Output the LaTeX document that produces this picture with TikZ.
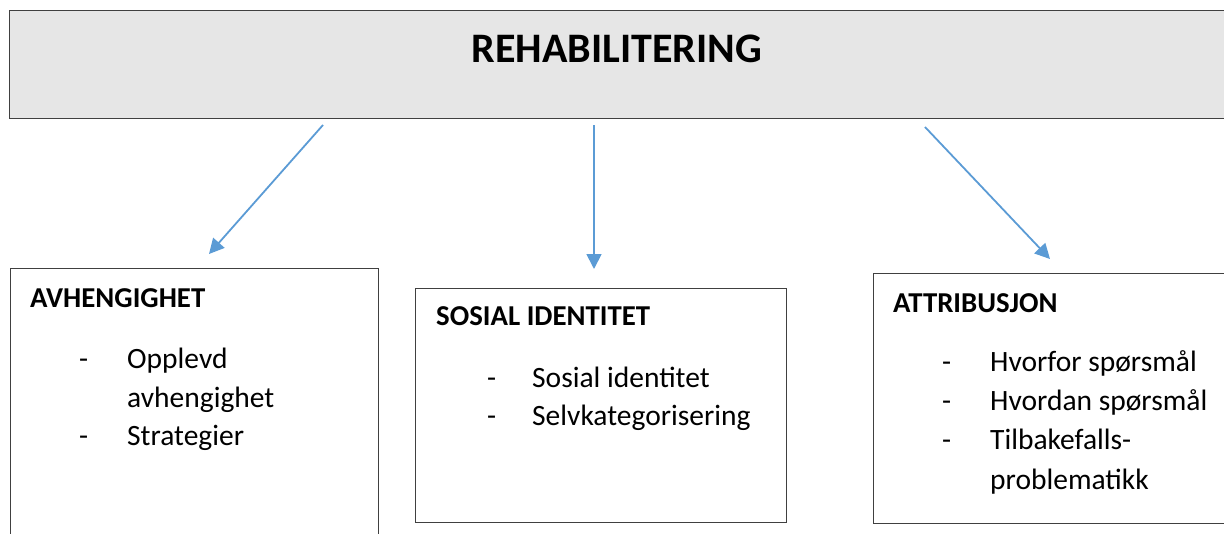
\documentclass[tikz,border=0pt]{standalone}
\usepackage{fontspec}
\setmainfont{Carlito}
\usetikzlibrary{arrows.meta}
\definecolor{pilblaa}{HTML}{5B9BD5}
\definecolor{boksgraa}{HTML}{E6E6E6}
\definecolor{kant}{HTML}{404040}

\begin{document}
\begin{tikzpicture}[x=1pt,y=-1pt,
	boks/.style={draw=kant,line width=1.2pt,anchor=north west,inner sep=0pt},
	overskrift/.style={anchor=base west,inner sep=0pt,font=\fontsize{28.8}{34}\selectfont\bfseries},
	punkt/.style={anchor=base west,inner sep=0pt,font=\fontsize{29.5}{36}\selectfont},
	pil/.style={draw=pilblaa,line width=1.8pt,-{Triangle[length=15pt,width=15pt]}}]
		\useasboundingbox (0,0) rectangle (1224,533);
		\clip (0,0) rectangle (1224,533);
		% boksene
		\node[boks,fill=boksgraa,minimum width=1240pt,minimum height=108pt] (rehab) at (9,10) {};
		\node[boks,minimum width=368pt,minimum height=300pt] (avh) at (10,268) {};
		\node[boks,minimum width=371pt,minimum height=234pt] (sos) at (415,288) {};
		\node[boks,minimum width=400pt,minimum height=250pt] (attr) at (873,273) {};
		\node[anchor=base,inner sep=0pt,font=\fontsize{42}{50}\selectfont\bfseries] (tittel) at (617,62) {REHABILITERING};
		% avhengighet
		\node[overskrift] (avhT) at (30,307) {AVHENGIGHET};
		\node[punkt] (avhS1) at (79,368) {-};
		\node[punkt] (avh1) at (127,368) {Opplevd};
		\node[punkt] (avh1b) at (127,407) {avhengighet};
		\node[punkt] (avhS2) at (79,445) {-};
		\node[punkt] (avh2) at (127,445) {Strategier};
		% sosial identitet
		\node[overskrift] (sosT) at (436,325) {SOSIAL IDENTITET};
		\foreach \y/\navn/\tekst in {387/sos1/Sosial identitet,425/sos2/Selvkategorisering}{
			\node[punkt] (\navn S) at (487,\y) {-};
			\node[punkt] (\navn) at (532,\y) {\tekst};
		}
		% attribusjon
		\node[overskrift] (attrT) at (893,312) {ATTRIBUSJON};
		\foreach \y/\navn/\tekst in {371/attr1/Hvorfor spørsmål,410/attr2/Hvordan spørsmål,449/attr3/Tilbakefalls-}{
			\node[punkt] (\navn S) at (942,\y) {-};
			\node[punkt] (\navn) at (990,\y) {\tekst};
		}
		\node[punkt] (attr3b) at (990,489) {problematikk};
		% pilene
		\coordinate (fra1) at (323,125);
		\coordinate (til1) at (209,254);
		\coordinate (fra2) at (594,125);
		\coordinate (til2) at (594,269);
		\coordinate (fra3) at (925,127);
		\coordinate (til3) at (1050,259);
		\draw[pil] (fra1) -- (til1);
		\draw[pil] (fra2) -- (til2);
		\draw[pil] (fra3) -- (til3);
	    \end{tikzpicture}
\end{document}
